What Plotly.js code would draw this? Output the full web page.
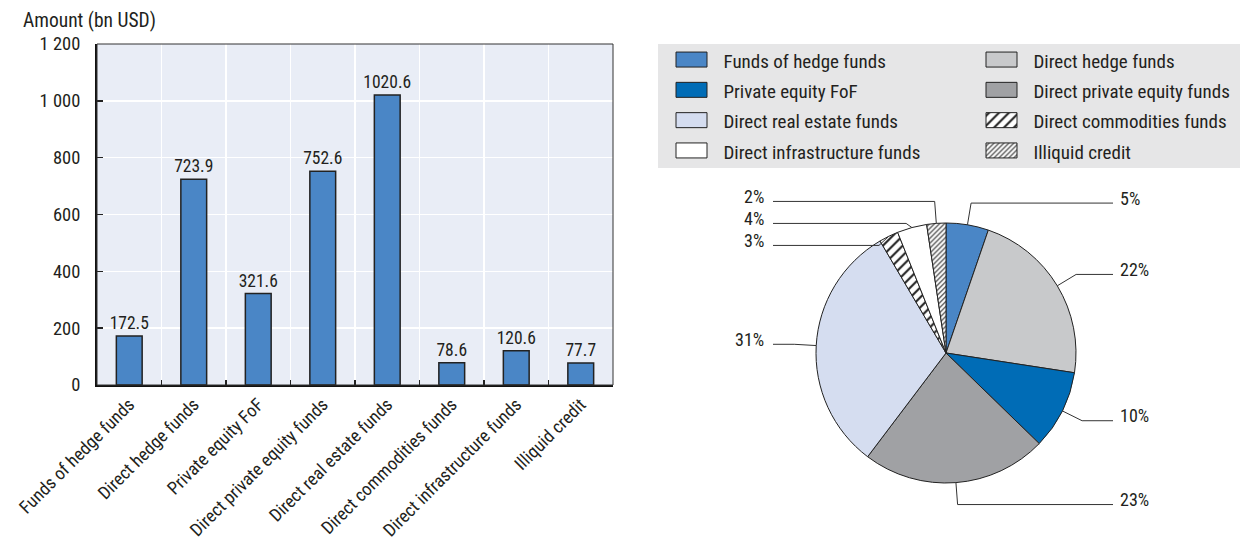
<!DOCTYPE html>
<html><head><meta charset="utf-8">
<script src="https://cdn.plot.ly/plotly-3.0.1.min.js"></script>
<style>html,body{margin:0;padding:0;background:#fff}#chart{width:1246px;height:552px}</style>
</head><body><div id="chart"></div>
<script>
// ---- data ----
const categories = ["Funds of hedge funds","Direct hedge funds","Private equity FoF","Direct private equity funds","Direct real estate funds","Direct commodities funds","Direct infrastructure funds","Illiquid credit"];
const amounts = [172.5, 723.9, 321.6, 752.6, 1020.6, 78.6, 120.6, 77.7];
const shareLabels = ["5%","22%","10%","23%","31%","3%","4%","2%"];
const yTickVals = [0, 200, 400, 600, 800, 1000, 1200];
const yTickText = ["0","200","400","600","800","1 000","1 200"];
const yAxisTitle = "Amount (bn USD)";

// ---- styles ----
const FONT = "'Roboto Condensed', 'DejaVu Sans Condensed', sans-serif";
const TXT = "#231f20";
const barColor = "#4a86c6";
const pieColors = ["#4a86c6","#c8c9cb","#006cb6","#a0a1a4","#d5ddf0","#ffffff","#ffffff","#ffffff"];
const piePatterns = ["","","","","","/","","/"];
const piePatternSizes = [8,8,8,8,8,7,8,3.5];

const W = 1246, H = 552, MR = 10;
const GW = W - MR;            // plot-area width in px
const fx = p => p / GW;       // px -> paper x
const fy = p => 1 - p / H;    // px -> paper y

const pieBox = {x0: 816, x1: 1076, y0: 223, y1: 483};
const cx = (pieBox.x0 + pieBox.x1) / 2, cy = (pieBox.y0 + pieBox.y1) / 2;
const R = (pieBox.x1 - pieBox.x0) / 2;

const legendLabels = categories.map(c => '<span style="font-size:19px">' + c + '</span>');

const bar = {
  type: 'bar', x: categories, y: amounts, xaxis: 'x', yaxis: 'y',
  width: 0.4,
  marker: {color: barColor, line: {color: '#222', width: 1.5}},
  text: amounts.map(v => v.toFixed(1)), textposition: 'outside', constraintext: 'none',
  textfont: {size: 17.5, color: TXT, family: FONT}, cliponaxis: false,
  showlegend: false, hoverinfo: 'none'
};

const pie = {
  type: 'pie', values: amounts, labels: legendLabels, sort: false,
  direction: 'clockwise', rotation: 0, textinfo: 'none', hoverinfo: 'none',
  domain: {x: [fx(pieBox.x0), fx(pieBox.x1)], y: [fy(pieBox.y1), fy(pieBox.y0)]},
  marker: {colors: pieColors, line: {color: '#222', width: 1},
    pattern: {shape: piePatterns, fgcolor: '#222', bgcolor: '#ffffff', size: piePatternSizes, solidity: 0.3}},
  showlegend: true
};

// ---- pie leader lines and labels computed from the data ----
const total = amounts.reduce((a, b) => a + b, 0);
let cum = 0;
const items = amounts.map((v, i) => {
  const mid = (cum + v / 2) / total * 2 * Math.PI; cum += v;
  const s = Math.sin(mid), c = Math.cos(mid);
  return {i, s, c, ex: cx + R * s, ey: cy - R * c,
          bx: cx + (R + 22) * s, by: cy - (R + 22) * c, right: s >= 0};
});
const MIN_GAP = 22;
[true, false].forEach(side => {
  const grp = items.filter(d => d.right === side).sort((a, b) => a.by - b.by);
  for (let k = 1; k < grp.length; k++) {
    if (grp[k].by - grp[k - 1].by < MIN_GAP) grp[k].by = grp[k - 1].by + MIN_GAP;
  }
});
const shapes = [
  {type: 'rect', xref: 'paper', yref: 'paper', x0: fx(658), x1: fx(1240), y0: fy(44), y1: fy(168),
   fillcolor: '#e6e6e7', line: {width: 0}, layer: 'below'},
  {type: 'rect', xref: 'x domain', yref: 'y domain', x0: 0, x1: 1, y0: 0, y1: 1,
   line: {color: '#333', width: 1}, layer: 'above'}
];
const annotations = [
  {text: yAxisTitle, xref: 'paper', yref: 'paper', x: fx(21), y: fy(20), xanchor: 'left', yanchor: 'middle',
   showarrow: false, font: {size: 19.5, color: TXT, family: FONT}}
];
items.forEach(d => {
  const endX = d.right ? 1113 : 773;
  shapes.push({type: 'path', xref: 'paper', yref: 'paper', layer: 'above',
    path: `M${fx(d.ex)},${fy(d.ey)} L${fx(d.bx)},${fy(d.by)} L${fx(endX)},${fy(d.by)}`,
    line: {color: '#333', width: 1}});
  annotations.push({text: shareLabels[d.i], xref: 'paper', yref: 'paper', showarrow: false,
    x: fx(d.right ? 1119 : 765), y: fy(d.by - 5), xanchor: d.right ? 'left' : 'right', yanchor: 'middle',
    borderpad: 0, font: {size: 18, color: TXT, family: FONT}});
});

const layout = {
  width: W, height: H,
  margin: {l: 0, r: MR, t: 0, b: 0, autoexpand: false},
  paper_bgcolor: '#ffffff', plot_bgcolor: '#e9edf6',
  font: {family: FONT, color: TXT, size: 16},
  showlegend: true,
  legend: {orientation: 'h', x: 1246 / GW, xanchor: 'right', y: fy(39.4), yanchor: 'top',
    font: {size: 21, color: TXT, family: FONT}, itemwidth: 54, indentation: 33.5,
    entrywidth: 207.5, entrywidthmode: 'pixels', bgcolor: 'rgba(0,0,0,0)', borderwidth: 0,
    itemclick: false, itemdoubleclick: false},
  xaxis: {domain: [fx(97), fx(613)], type: 'category', tickson: 'boundaries',
    ticks: 'inside', ticklen: 5, tickcolor: '#222', tickwidth: 1.5,
    showgrid: true, gridcolor: '#ffffff', gridwidth: 1.5, tickangle: -45,
    tickfont: {size: 18, color: TXT, family: FONT},
    showline: true, linecolor: '#111', linewidth: 2, fixedrange: true, automargin: false},
  yaxis: {domain: [fy(385), fy(44)], range: [0, 1200], tickvals: yTickVals, ticktext: yTickText,
    ticks: 'inside', ticklen: 6, tickcolor: '#222', tickwidth: 1.5,
    showgrid: true, gridcolor: '#ffffff', gridwidth: 1.5, zeroline: false,
    tickfont: {size: 18.5, color: TXT, family: FONT}, ticklabelstandoff: 11,
    showline: true, linecolor: '#111', linewidth: 2, fixedrange: true, automargin: false},
  shapes: shapes, annotations: annotations
};

Plotly.newPlot('chart', [bar, pie], layout, {staticPlot: true, displayModeBar: false}).then(gd => {
  // widen legend swatches to the reference's rectangular keys
  gd.querySelectorAll('.legend path.legendpie').forEach(p => p.setAttribute('d', 'M15.5,7.5H-15.5V-7.5H15.5Z'));
});
</script>
</body></html>
